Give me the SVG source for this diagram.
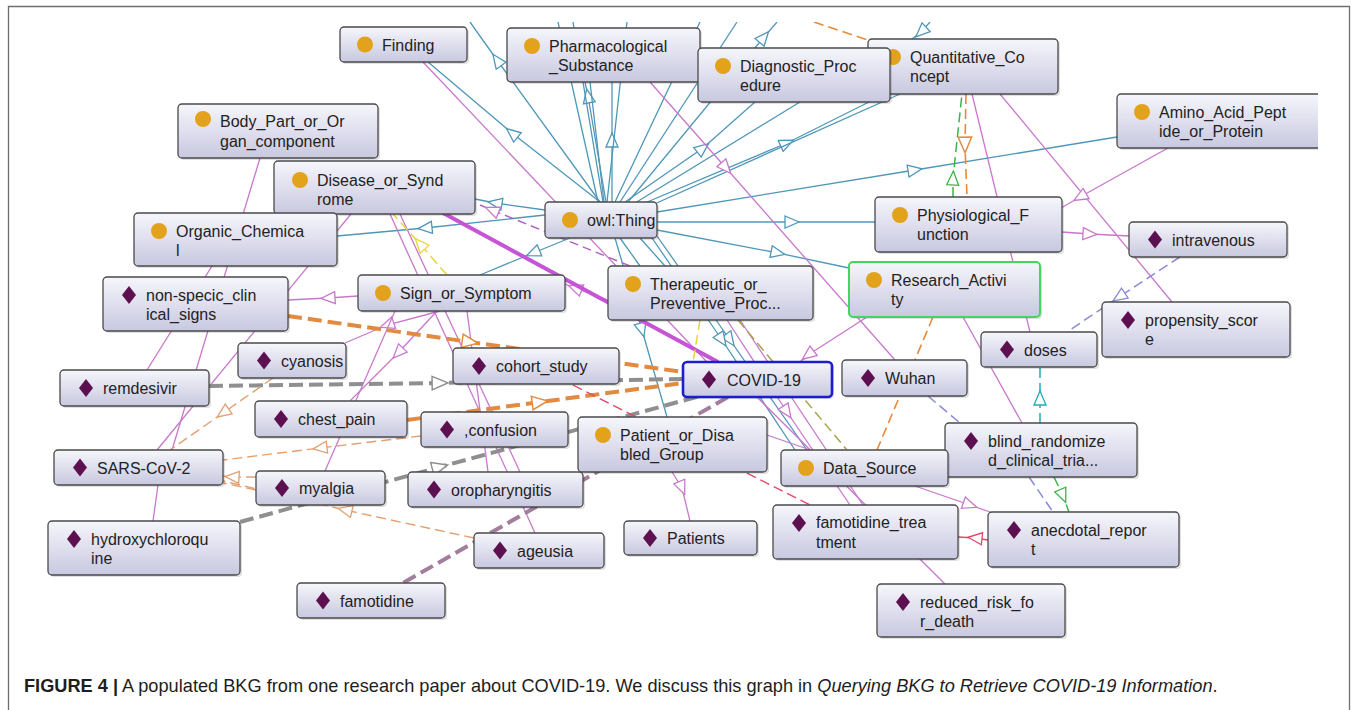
<svg xmlns="http://www.w3.org/2000/svg" width="1356" height="710" viewBox="0 0 1356 710">
  <defs>
    <linearGradient id="nodeFill" x1="0" y1="0" x2="0" y2="1">
      <stop offset="0" stop-color="#f6f6fc"/>
      <stop offset="1" stop-color="#c8c8e0"/>
    </linearGradient>
    <clipPath id="graphArea">
      <rect x="9" y="22" width="1309" height="630"/>
    </clipPath>
    <!-- open triangle arrowheads, one per edge colour -->
    <marker id="aTeal" viewBox="0 0 16 14" refX="8" refY="7" markerWidth="16" markerHeight="14" markerUnits="userSpaceOnUse" orient="auto"><path d="M1,1 L15,7 L1,13 z" fill="#fff" stroke="#4f97b8" stroke-width="1.3"/></marker>
    <marker id="aMag" viewBox="0 0 16 14" refX="8" refY="7" markerWidth="16" markerHeight="14" markerUnits="userSpaceOnUse" orient="auto"><path d="M1,1 L15,7 L1,13 z" fill="#fff" stroke="#c878cc" stroke-width="1.3"/></marker>
    <marker id="aOrg" viewBox="0 0 16 14" refX="8" refY="7" markerWidth="18" markerHeight="16" markerUnits="userSpaceOnUse" orient="auto"><path d="M1,1 L15,7 L1,13 z" fill="#fff" stroke="#e28a40" stroke-width="1.3"/></marker>
    <marker id="aOrgT" viewBox="0 0 16 14" refX="8" refY="7" markerWidth="16" markerHeight="14" markerUnits="userSpaceOnUse" orient="auto"><path d="M1,1 L15,7 L1,13 z" fill="#fff" stroke="#e2a070" stroke-width="1.3"/></marker>
    <marker id="aGray" viewBox="0 0 16 14" refX="8" refY="7" markerWidth="18" markerHeight="16" markerUnits="userSpaceOnUse" orient="auto"><path d="M1,1 L15,7 L1,13 z" fill="#fff" stroke="#8f8f8f" stroke-width="1.3"/></marker>
    <marker id="aGreen" viewBox="0 0 16 14" refX="8" refY="7" markerWidth="16" markerHeight="14" markerUnits="userSpaceOnUse" orient="auto"><path d="M1,1 L15,7 L1,13 z" fill="#fff" stroke="#3cb44a" stroke-width="1.3"/></marker>
    <marker id="aCyan" viewBox="0 0 16 14" refX="8" refY="7" markerWidth="16" markerHeight="14" markerUnits="userSpaceOnUse" orient="auto"><path d="M1,1 L15,7 L1,13 z" fill="#fff" stroke="#22aab8" stroke-width="1.3"/></marker>
    <marker id="aLav" viewBox="0 0 16 14" refX="8" refY="7" markerWidth="16" markerHeight="14" markerUnits="userSpaceOnUse" orient="auto"><path d="M1,1 L15,7 L1,13 z" fill="#fff" stroke="#8a8ad8" stroke-width="1.3"/></marker>
    <marker id="aRed" viewBox="0 0 16 14" refX="8" refY="7" markerWidth="16" markerHeight="14" markerUnits="userSpaceOnUse" orient="auto"><path d="M1,1 L15,7 L1,13 z" fill="#fff" stroke="#e04868" stroke-width="1.3"/></marker>
    <marker id="aYel" viewBox="0 0 16 14" refX="8" refY="7" markerWidth="16" markerHeight="14" markerUnits="userSpaceOnUse" orient="auto"><path d="M1,1 L15,7 L1,13 z" fill="#fff" stroke="#e6d63a" stroke-width="1.3"/></marker>
    <path id="diamond" d="M0,-9 L7,0 L0,9 L-7,0 z"/>
  </defs>
  <style>
    .edges path { fill: none; }
    .t { stroke: #4f97b8; stroke-width: 1.3; marker-mid: url(#aTeal); }
    .m { stroke: #c878cc; stroke-width: 1.3; marker-mid: url(#aMag); }
    .mthick { stroke: #c555d5; stroke-width: 4; }
    .mdash { stroke: #b060c0; stroke-width: 1.4; stroke-dasharray: 9 5; marker-mid: url(#aMag); }
    .othick { stroke: #e28a40; stroke-width: 4; stroke-dasharray: 14 6; marker-mid: url(#aOrg); }
    .gthick { stroke: #8f8f8f; stroke-width: 4; stroke-dasharray: 14 6; marker-mid: url(#aGray); }
    .pthick { stroke: #a27e9c; stroke-width: 4; stroke-dasharray: 14 6; }
    .od { stroke: #e2a070; stroke-width: 1.4; stroke-dasharray: 10 5; marker-mid: url(#aOrgT); }
    .odk { stroke: #e88a3a; stroke-width: 1.6; stroke-dasharray: 10 5; marker-mid: url(#aOrg); }
    .gd { stroke: #3cb44a; stroke-width: 1.5; stroke-dasharray: 10 5; marker-mid: url(#aGreen); }
    .cd { stroke: #22aab8; stroke-width: 1.5; stroke-dasharray: 10 5; marker-mid: url(#aCyan); }
    .ld { stroke: #8a8ad8; stroke-width: 1.5; stroke-dasharray: 10 5; marker-mid: url(#aLav); }
    .rd { stroke: #e04868; stroke-width: 1.4; stroke-dasharray: 10 5; }
    .rs { stroke: #e04868; stroke-width: 1.4; marker-mid: url(#aRed); }
    .yd { stroke: #e6d63a; stroke-width: 1.5; stroke-dasharray: 10 5; marker-mid: url(#aYel); }
    .olv { stroke: #a8a44c; stroke-width: 1.5; stroke-dasharray: 10 5; }
    .node rect.box { fill: url(#nodeFill); stroke: #4a4a4a; stroke-width: 1.3; }
    .node rect.shadow { fill: #000; opacity: 0.12; }
    .node text { font-family: "Liberation Sans", Arial, sans-serif; font-size: 16px; fill: #222; }
    .cls circle { fill: #e2a21c; }
    .ind use { fill: #5c1050; }
    #n-covid rect.box { stroke: #1c1cd0; stroke-width: 2.6; }
    #n-research rect.box { stroke: #3fd85a; stroke-width: 2; }
    .caption { font-family: "Liberation Sans", Arial, sans-serif; font-size: 18.2px; fill: #1e1e1e; }
  </style>

  <rect width="1356" height="710" fill="#fff"/>
  <path d="M8.5,712 V6.5 H1349.5 V712" fill="none" stroke="#6e6e6e" stroke-width="1.3"/>

  <g clip-path="url(#graphArea)">
    <g id="connectors" class="edges">
      <!-- subclass links out of owl:Thing -->
      <path class="t" d="M600,202 L497,60 L470,22"/>
      <path class="t" d="M600,202 L512,133 L428,62"/>
      <path class="t" d="M606,202 L588,96 L585,82"/>
      <path class="t" d="M612,202 L612,140 L612,82"/>
      <path class="t" d="M604,202 L590,82"/>
      <path class="t" d="M598,202 L558,22"/>
      <path class="t" d="M603,202 L573,22"/>
      <path class="t" d="M607,202 L627,22"/>
      <path class="t" d="M615,202 L700,22"/>
      <path class="t" d="M620,202 L737,22"/>
      <path class="t" d="M628,202 L764,37 L777,22"/>
      <path class="t" d="M625,202 L703,148 L755,102"/>
      <path class="t" d="M635,203 L800,102"/>
      <path class="t" d="M640,205 L787,143 L885,94"/>
      <path class="t" d="M650,206 L900,94"/>
      <path class="t" d="M930,22 L921,32 L912,39"/>
      <path class="t" d="M657,212 L915,170 L1117,137"/>
      <path class="t" d="M657,222 L792,222 L875,222"/>
      <path class="t" d="M657,230 L778,253 L849,268"/>
      <path class="t" d="M620,238 L640,266"/>
      <path class="t" d="M640,238 L665,266"/>
      <path class="t" d="M657,236 L730,340 L807,450"/>
      <path class="t" d="M652,238 L722,340 L795,450"/>
      <path class="t" d="M615,238 L642,330 L667,417"/>
      <path class="t" d="M545,215 L425,228 L337,236"/>
      <path class="t" d="M545,210 L495,203 L475,199"/>
      <path class="t" d="M570,238 L533,253 L480,275"/>

      <!-- object property links -->
      <path class="m" d="M423,62 L707,362"/>
      <path class="m" d="M650,82 L726,168 L895,360"/>
      <path class="m" d="M972,94 L1030,332"/>
      <path class="m" d="M1000,94 L1172,302"/>
      <path class="m" d="M1168,148 L1080,197 L1061,208"/>
      <path class="m" d="M1062,232 L1090,234 L1129,236"/>
      <path class="m" d="M867,317 L808,355 L800,362"/>
      <path class="m" d="M963,317 L1022,423"/>
      <path class="m" d="M727,320 L787,412 L850,505"/>
      <path class="m" d="M740,320 L863,505"/>
      <path class="m" d="M757,397 L945,584"/>
      <path class="m" d="M767,435 L970,505 L990,512"/>
      <path class="m" d="M672,472 L682,488 L690,521"/>
      <path class="m" d="M390,214 L535,533"/>
      <path class="m" d="M400,214 L520,472"/>
      <path class="m" d="M467,311 L488,472"/>
      <path class="m" d="M440,311 L387,325 L345,343"/>
      <path class="m" d="M437,311 L398,353 L350,401"/>
      <path class="m" d="M395,311 L325,471"/>
      <path class="m" d="M358,296 L328,298 L288,300"/>
      <path class="m" d="M608,300 L575,288 L565,284"/>
      <path class="m" d="M222,250 L147,370"/>
      <path class="m" d="M260,158 L172,450"/>
      <path class="m" d="M351,214 L157,450"/>
      <path class="m" d="M158,485 L153,521"/>
      <path class="mdash" d="M630,266 L492,210 L480,205"/>

      <!-- weighted links to COVID-19 -->
      <path class="mthick" d="M432,207 L718,362"/>
      <path class="pthick" d="M728,397 L403,583"/>
      <path class="othick" d="M288,316 L470,342 L683,372"/>
      <path class="othick" d="M407,420 L540,402 L683,383"/>
      <path class="gthick" d="M209,386 L440,383 L683,379"/>
      <path class="gthick" d="M240,522 L440,467 L700,396"/>

      <!-- dashed annotation links -->
      <path class="od" d="M273,378 L223,413 L170,450"/>
      <path class="od" d="M421,436 L320,448 L223,460"/>
      <path class="od" d="M474,538 L345,510 L223,481"/>
      <path class="od" d="M256,477 L232,477 L223,476"/>
      <path class="od" d="M256,490 L223,483"/>
      <path class="odk" d="M814,22 L868,40"/>
      <path class="odk" d="M966,94 L965,145 L967,197"/>
      <path class="odk" d="M933,317 L877,450"/>
      <path class="gd" d="M953,197 L953,178 L962,94"/>
      <path class="gd" d="M1054,477 L1063,496 L1069,512"/>
      <path class="cd" d="M1040,423 L1040,398 L1040,367"/>
      <path class="ld" d="M1180,257 L1119,297 L1070,330"/>
      <path class="ld" d="M928,396 L960,423"/>
      <path class="ld" d="M1029,477 L1053,512"/>
      <path class="rd" d="M573,385 L810,505"/>
      <path class="rs" d="M988,540 L975,538 L958,537"/>
      <path class="yd" d="M447,275 L420,244 L393,214"/>
      <path class="yd" d="M700,320 L693,362"/>
      <path class="olv" d="M738,320 L847,450"/>
    </g>

    <!-- class and individual nodes -->
    <g id="n-finding" class="node cls"><rect class="shadow" x="342" y="29" width="127" height="35" rx="4"/><rect class="box" x="340" y="27" width="127" height="35" rx="4"/><circle cx="365" cy="44.5" r="8"/><text x="382" y="50.5">Finding</text></g>
    <g id="n-pharma" class="node cls"><rect class="shadow" x="509" y="30" width="193" height="54" rx="4"/><rect class="box" x="507" y="28" width="193" height="54" rx="4"/><circle cx="532" cy="46" r="8"/><text x="549" y="52">Pharmacological<tspan x="549" y="71">_Substance</tspan></text></g>
    <g id="n-quant" class="node cls"><rect class="shadow" x="870" y="41" width="190" height="55" rx="4"/><rect class="box" x="868" y="39" width="190" height="55" rx="4"/><circle cx="893" cy="57" r="8"/><text x="910" y="63">Quantitative_Co<tspan x="910" y="82">ncept</tspan></text></g>
    <g id="n-diag" class="node cls"><rect class="shadow" x="700" y="50" width="192" height="54" rx="4"/><rect class="box" x="698" y="48" width="192" height="54" rx="4"/><circle cx="723" cy="66" r="8"/><text x="740" y="72">Diagnostic_Proc<tspan x="740" y="91">edure</tspan></text></g>
    <g id="n-amino" class="node cls"><rect class="shadow" x="1119" y="96" width="210" height="54" rx="4"/><rect class="box" x="1117" y="94" width="210" height="54" rx="4"/><circle cx="1142" cy="112" r="8"/><text x="1159" y="118">Amino_Acid_Pept<tspan x="1159" y="137">ide_or_Protein</tspan></text></g>
    <g id="n-body" class="node cls"><rect class="shadow" x="180" y="106" width="200" height="54" rx="4"/><rect class="box" x="178" y="104" width="200" height="54" rx="4"/><circle cx="203" cy="119" r="8"/><text x="220" y="127">Body_Part_or_Or<tspan x="220" y="147">gan_component</tspan></text></g>
    <g id="n-disease" class="node cls"><rect class="shadow" x="276" y="163" width="201" height="53" rx="4"/><rect class="box" x="274" y="161" width="201" height="53" rx="4"/><circle cx="300" cy="180" r="8"/><text x="317" y="186">Disease_or_Synd<tspan x="317" y="205">rome</tspan></text></g>
    <g id="n-organic" class="node cls"><rect class="shadow" x="136" y="215" width="203" height="53" rx="4"/><rect class="box" x="134" y="213" width="203" height="53" rx="4"/><circle cx="159" cy="231" r="8"/><text x="176" y="237">Organic_Chemica<tspan x="176" y="256">l</tspan></text></g>
    <g id="n-thing" class="node cls"><rect class="shadow" x="547" y="204" width="112" height="36" rx="4"/><rect class="box" x="545" y="202" width="112" height="36" rx="4"/><circle cx="570" cy="220" r="8"/><text x="587" y="226">owl:Thing</text></g>
    <g id="n-physio" class="node cls"><rect class="shadow" x="877" y="199" width="187" height="55" rx="4"/><rect class="box" x="875" y="197" width="187" height="55" rx="4"/><circle cx="900" cy="215" r="8"/><text x="917" y="221">Physiological_F<tspan x="917" y="240">unction</tspan></text></g>
    <g id="n-iv" class="node ind"><rect class="shadow" x="1131" y="224" width="158" height="35" rx="4"/><rect class="box" x="1129" y="222" width="158" height="35" rx="4"/><use href="#diamond" x="1155" y="239.5"/><text x="1172" y="245.5">intravenous</text></g>
    <g id="n-research" class="node cls"><rect class="shadow" x="851" y="264" width="191" height="55" rx="4"/><rect class="box" x="849" y="262" width="191" height="55" rx="4"/><circle cx="874" cy="280" r="8"/><text x="891" y="286">Research_Activi<tspan x="891" y="305">ty</tspan></text></g>
    <g id="n-propensity" class="node ind"><rect class="shadow" x="1104" y="304" width="188" height="55" rx="4"/><rect class="box" x="1102" y="302" width="188" height="55" rx="4"/><use href="#diamond" x="1128" y="320"/><text x="1145" y="326">propensity_scor<tspan x="1145" y="345">e</tspan></text></g>
    <g id="n-doses" class="node ind"><rect class="shadow" x="983" y="334" width="116" height="35" rx="4"/><rect class="box" x="981" y="332" width="116" height="35" rx="4"/><use href="#diamond" x="1007" y="349.5"/><text x="1024" y="355.5">doses</text></g>
    <g id="n-thera" class="node cls"><rect class="shadow" x="610" y="268" width="205" height="54" rx="4"/><rect class="box" x="608" y="266" width="205" height="54" rx="4"/><circle cx="633" cy="284" r="8"/><text x="650" y="290">Therapeutic_or_<tspan x="650" y="309">Preventive_Proc...</tspan></text></g>
    <g id="n-sign" class="node cls"><rect class="shadow" x="360" y="277" width="207" height="36" rx="4"/><rect class="box" x="358" y="275" width="207" height="36" rx="4"/><circle cx="383" cy="293" r="8"/><text x="400" y="299">Sign_or_Symptom</text></g>
    <g id="n-nonspecic" class="node ind"><rect class="shadow" x="105" y="279" width="185" height="54" rx="4"/><rect class="box" x="103" y="277" width="185" height="54" rx="4"/><use href="#diamond" x="129" y="295"/><text x="146" y="301">non-specic_clin<tspan x="146" y="320">ical_signs</tspan></text></g>
    <g id="n-cyanosis" class="node ind"><rect class="shadow" x="240" y="345" width="108" height="35" rx="4"/><rect class="box" x="238" y="343" width="108" height="35" rx="4"/><use href="#diamond" x="264" y="360.5"/><text x="281" y="366.5">cyanosis</text></g>
    <g id="n-remdesivir" class="node ind"><rect class="shadow" x="62" y="372" width="149" height="36" rx="4"/><rect class="box" x="60" y="370" width="149" height="36" rx="4"/><use href="#diamond" x="86" y="388"/><text x="103" y="394">remdesivir</text></g>
    <g id="n-cohort" class="node ind"><rect class="shadow" x="455" y="350" width="166" height="36" rx="4"/><rect class="box" x="453" y="348" width="166" height="36" rx="4"/><use href="#diamond" x="479" y="366"/><text x="496" y="372">cohort_study</text></g>
    <g id="n-covid" class="node ind"><rect class="shadow" x="685" y="364" width="149" height="35" rx="4"/><rect class="box" x="683" y="362" width="149" height="35" rx="4"/><use href="#diamond" x="709" y="379.5"/><text x="727" y="385.5">COVID-19</text></g>
    <g id="n-wuhan" class="node ind"><rect class="shadow" x="844" y="362" width="125" height="36" rx="4"/><rect class="box" x="842" y="360" width="125" height="36" rx="4"/><use href="#diamond" x="868" y="378"/><text x="885" y="384">Wuhan</text></g>
    <g id="n-chest" class="node ind"><rect class="shadow" x="257" y="403" width="152" height="36" rx="4"/><rect class="box" x="255" y="401" width="152" height="36" rx="4"/><use href="#diamond" x="281" y="419"/><text x="298" y="425">chest_pain</text></g>
    <g id="n-confusion" class="node ind"><rect class="shadow" x="423" y="414" width="147" height="35" rx="4"/><rect class="box" x="421" y="412" width="147" height="35" rx="4"/><use href="#diamond" x="447" y="429.5"/><text x="464" y="435.5">,confusion</text></g>
    <g id="n-patientgrp" class="node cls"><rect class="shadow" x="580" y="419" width="189" height="55" rx="4"/><rect class="box" x="578" y="417" width="189" height="55" rx="4"/><circle cx="603" cy="435" r="8"/><text x="620" y="441">Patient_or_Disa<tspan x="620" y="460">bled_Group</tspan></text></g>
    <g id="n-blind" class="node ind"><rect class="shadow" x="947" y="425" width="192" height="54" rx="4"/><rect class="box" x="945" y="423" width="192" height="54" rx="4"/><use href="#diamond" x="971" y="441"/><text x="988" y="447">blind_randomize<tspan x="988" y="466">d_clinical_tria...</tspan></text></g>
    <g id="n-datasource" class="node cls"><rect class="shadow" x="783" y="452" width="167" height="36" rx="4"/><rect class="box" x="781" y="450" width="167" height="36" rx="4"/><circle cx="806" cy="468" r="8"/><text x="823" y="474">Data_Source</text></g>
    <g id="n-sars" class="node ind"><rect class="shadow" x="56" y="452" width="169" height="35" rx="4"/><rect class="box" x="54" y="450" width="169" height="35" rx="4"/><use href="#diamond" x="80" y="467.5"/><text x="97" y="473.5">SARS-CoV-2</text></g>
    <g id="n-myalgia" class="node ind"><rect class="shadow" x="258" y="473" width="129" height="34" rx="4"/><rect class="box" x="256" y="471" width="129" height="34" rx="4"/><use href="#diamond" x="282" y="488"/><text x="299" y="494">myalgia</text></g>
    <g id="n-oropharyngitis" class="node ind"><rect class="shadow" x="410" y="474" width="175" height="35" rx="4"/><rect class="box" x="408" y="472" width="175" height="35" rx="4"/><use href="#diamond" x="434" y="489.5"/><text x="451" y="495.5">oropharyngitis</text></g>
    <g id="n-hcq" class="node ind"><rect class="shadow" x="50" y="523" width="192" height="54" rx="4"/><rect class="box" x="48" y="521" width="192" height="54" rx="4"/><use href="#diamond" x="74" y="539"/><text x="91" y="545">hydroxychloroqu<tspan x="91" y="564">ine</tspan></text></g>
    <g id="n-ageusia" class="node ind"><rect class="shadow" x="476" y="535" width="130" height="35" rx="4"/><rect class="box" x="474" y="533" width="130" height="35" rx="4"/><use href="#diamond" x="500" y="550.5"/><text x="517" y="556.5">ageusia</text></g>
    <g id="n-patients" class="node ind"><rect class="shadow" x="626" y="523" width="133" height="34" rx="4"/><rect class="box" x="624" y="521" width="133" height="34" rx="4"/><use href="#diamond" x="650" y="538"/><text x="667" y="544">Patients</text></g>
    <g id="n-famtreat" class="node ind"><rect class="shadow" x="775" y="507" width="185" height="54" rx="4"/><rect class="box" x="773" y="505" width="185" height="54" rx="4"/><use href="#diamond" x="799" y="523"/><text x="816" y="528">famotidine_trea<tspan x="816" y="548">tment</tspan></text></g>
    <g id="n-anecdotal" class="node ind"><rect class="shadow" x="990" y="514" width="191" height="55" rx="4"/><rect class="box" x="988" y="512" width="191" height="55" rx="4"/><use href="#diamond" x="1014" y="530"/><text x="1031" y="536">anecdotal_repor<tspan x="1031" y="555">t</tspan></text></g>
    <g id="n-famotidine" class="node ind"><rect class="shadow" x="299" y="585" width="148" height="35" rx="4"/><rect class="box" x="297" y="583" width="148" height="35" rx="4"/><use href="#diamond" x="323" y="600.5"/><text x="340" y="606.5">famotidine</text></g>
    <g id="n-reducedrisk" class="node ind"><rect class="shadow" x="879" y="586" width="188" height="53" rx="4"/><rect class="box" x="877" y="584" width="188" height="53" rx="4"/><use href="#diamond" x="903" y="602"/><text x="920" y="608">reduced_risk_fo<tspan x="920" y="627">r_death</tspan></text></g>
  </g>

  <text class="caption" x="24" y="692"><tspan font-weight="bold">FIGURE 4 |</tspan> A populated BKG from one research paper about COVID-19. We discuss this graph in <tspan font-style="italic">Querying BKG to Retrieve COVID-19 Information</tspan>.</text>
</svg>
